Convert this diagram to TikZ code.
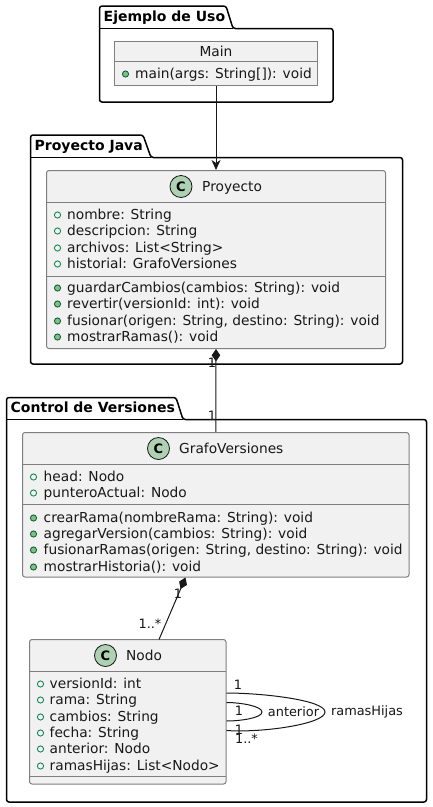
\documentclass[tikz,border=0pt]{standalone}
\usepackage{fontspec}
\setmainfont{DejaVu Sans}
\usetikzlibrary{arrows.meta,calc}
\definecolor{boxfill}{HTML}{F1F1F1}
\definecolor{boxline}{HTML}{7F7F7F}
\definecolor{ink}{HTML}{181818}
\definecolor{spot}{HTML}{ADD1B2}
\definecolor{visedge}{HTML}{038048}
\definecolor{visfill}{HTML}{84BE84}
\tikzset{
  x=1pt,y=-1pt,
  pkgline/.style={draw=black,line width=1.5pt,rounded corners=2.5pt,line join=round},
  pkgtitle/.style={anchor=base west,inner sep=0pt,font=\fontsize{14}{16}\selectfont\bfseries,text=black},
  classbox/.style={draw=boxline,fill=boxfill,line width=1pt,inner sep=0pt,rounded corners=2.5pt},
  objbox/.style={draw=boxline,fill=boxfill,line width=1pt,inner sep=0pt},
  sepline/.style={draw=boxline,line width=1pt},
  txt/.style={anchor=base west,inner sep=0pt,font=\fontsize{13.75}{16}\selectfont,text=ink},
  lbl/.style={anchor=center,inner sep=0pt,font=\fontsize{12.9}{15}\selectfont,text=ink},
  spotc/.style={circle,draw=ink,fill=spot,line width=.8pt,minimum size=22pt,inner sep=0pt,font=\fontsize{13}{15}\selectfont\bfseries,text=black},
  visopen/.style={circle,draw=visedge,fill=none,line width=.8pt,minimum size=6.2pt,inner sep=0pt},
  visfilled/.style={circle,draw=visedge!70!black,fill=visfill,line width=.8pt,minimum size=6.2pt,inner sep=0pt},
  conn/.style={draw=ink,line width=1pt},
}
\newcommand{\memb}[6]{% name, style, circle x, text x, circle y, text
  \node[#2] (#1c) at (#3,#5) {};
  \node[txt] (#1) at (#4,#5+4.5) {#6};
}
\begin{document}
\begin{tikzpicture}
\useasboundingbox (0,0) rectangle (432,807);
\fill[white] (0,0) rectangle (432,807);

% packages
\draw[pkgline] (99.5,28.5) -- (99.5,6) -- (226,6) -- (233,28.5) -- (333,28.5) -- (333,102) -- (99.5,102) -- cycle;
\draw[line width=1.5pt] (99.5,28.5) -- (233,28.5);
\node[pkgtitle] (pkgA) at (103.5,21) {Ejemplo de Uso};

\draw[pkgline] (30.5,157.5) -- (30.5,135) -- (143,135) -- (151,157.5) -- (402.5,157.5) -- (402.5,364) -- (30.5,364) -- cycle;
\draw[line width=1.5pt] (30.5,157.5) -- (151,157.5);
\node[pkgtitle] (pkgB) at (34.5,150) {Proyecto Java};

\draw[pkgline] (6.5,419.5) -- (6.5,397.5) -- (176,397.5) -- (183,419.5) -- (426.5,419.5) -- (426.5,802) -- (6.5,802) -- cycle;
\draw[line width=1.5pt] (6.5,419.5) -- (183,419.5);
\node[pkgtitle] (pkgC) at (10.5,412) {Control de Versiones};

% Main
\node[objbox,minimum width=203pt,minimum height=44pt] (main) at (216,63.5) {};
\draw[sepline] (114.5,61.5) -- (317.5,61.5);
\node[txt,anchor=center] (mainT) at (216,51) {Main};
\memb{mm}{visfilled}{125.5}{135}{74}{main(args: String[]): void}

% Proyecto
\node[classbox,minimum width=339pt,minimum height=178pt] (proy) at (216,259.5) {};
\draw[sepline] (46.5,202.5) -- (385.5,202.5);
\draw[sepline] (46.5,276) -- (385.5,276);
\node[spotc] (proyC) at (181,186.5) {C};
\node[txt] (proyT) at (202,191) {Proyecto};
\memb{pa}{visopen}{57.5}{67}{215}{nombre: String}
\memb{pb}{visopen}{57.5}{67}{231}{descripcion: String}
\memb{pc}{visopen}{57.5}{67}{248}{archivos: List<String>}
\memb{pd}{visopen}{57.5}{67}{264}{historial: GrafoVersiones}
\memb{pe}{visfilled}{57.5}{67}{288}{guardarCambios(cambios: String): void}
\memb{pf}{visfilled}{57.5}{67}{304}{revertir(versionId: int): void}
\memb{pg}{visfilled}{57.5}{67}{321}{fusionar(origen: String, destino: String): void}
\memb{ph}{visfilled}{57.5}{67}{337}{mostrarRamas(): void}

% GrafoVersiones
\node[classbox,minimum width=386.5pt,minimum height=144.5pt] (grafo) at (215.75,504.75) {};
\draw[sepline] (22.5,464.5) -- (409,464.5);
\draw[sepline] (22.5,504.5) -- (409,504.5);
\node[spotc] (grafoC) at (158.5,448.5) {C};
\node[txt] (grafoT) at (179,453) {GrafoVersiones};
\memb{ga}{visopen}{33.5}{43.5}{477}{head: Nodo}
\memb{gb}{visopen}{33.5}{43.5}{493}{punteroActual: Nodo}
\memb{gc}{visfilled}{33.5}{43.5}{518}{crearRama(nombreRama: String): void}
\memb{gd}{visfilled}{33.5}{43.5}{534}{agregarVersion(cambios: String): void}
\memb{ge}{visfilled}{33.5}{43.5}{550}{fusionarRamas(origen: String, destino: String): void}
\memb{gf}{visfilled}{33.5}{43.5}{567}{mostrarHistoria(): void}

% Nodo
\node[classbox,minimum width=196.5pt,minimum height=144.5pt] (nodo) at (127.75,711.75) {};
\draw[sepline] (29.5,671.5) -- (226,671.5);
\draw[sepline] (29.5,776) -- (226,776);
\node[spotc] (nodoC) at (105.5,655.5) {C};
\node[txt] (nodoT) at (126,660) {Nodo};
\memb{na}{visopen}{40.5}{49.5}{684}{versionId: int}
\memb{nb}{visopen}{40.5}{49.5}{700}{rama: String}
\memb{nc}{visopen}{40.5}{49.5}{717}{cambios: String}
\memb{nd}{visopen}{40.5}{49.5}{733}{fecha: String}
\memb{ne}{visopen}{40.5}{49.5}{749}{anterior: Nodo}
\memb{nf}{visopen}{40.5}{49.5}{766}{ramasHijas: List<Nodo>}

% connectors
\draw[conn,-{Stealth[length=10pt,width=9pt,inset=3pt]}] (main.south) -- (proy.north);
\draw[conn,{Diamond[length=12.5pt,width=8.5pt]}-] (proy.south) -- (grafo.north);
\coordinate (gs) at (185.5,577.5);
\coordinate (nt) at (159,639.5);
\draw[conn,{Diamond[length=12.5pt,width=8.5pt]}-] (gs) -- (nt);
\coordinate (o1) at (226.5,693);
\coordinate (o2) at (226.5,730.5);
\coordinate (i1) at (226.5,702.5);
\coordinate (i2) at (226.5,721);
\draw[conn] (o1) .. controls (262,693) and (325,700) .. (325,712) .. controls (325,724) and (262,733) .. (o2);
\draw[conn] (i1) .. controls (240,702.5) and (262,706) .. (262,712) .. controls (262,718) and (240,721) .. (i2);

% labels
\node[lbl] (l1) at (212,363) {1};
\node[lbl] (l2) at (212,416) {1};
\node[lbl] (l3) at (178,594) {1};
\node[lbl] (l4) at (150,623.5) {1..*};
\node[lbl] (l5) at (238,684.5) {1};
\node[lbl] (l6) at (239,710.5) {1};
\node[lbl] (l7) at (239,730) {1};
\node[lbl] (l8) at (246.5,739) {1..*};
\node[lbl] (l9) at (293.5,712) {anterior};
\node[lbl] (l10) at (367,712) {ramasHijas};
\end{tikzpicture}
\end{document}
